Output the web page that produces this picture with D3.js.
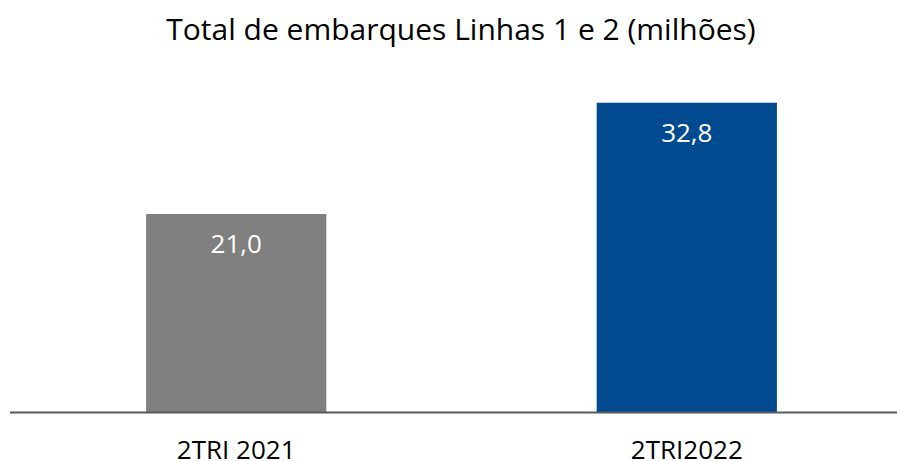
<!DOCTYPE html>
<html>
<head>
<meta charset="utf-8">
<script src="https://cdn.jsdelivr.net/npm/d3@7"></script>
<style>
  body { margin: 0; background: #fff; }
  text { font-family: 'Open Sans', 'Liberation Sans', sans-serif; }
</style>
</head>
<body>
<div id="chart"></div>
<script>
// Data
var categories = ['2TRI 2021', '2TRI2022'];
var values = [21.0, 32.8];
var barColors = ['#808080', '#004A8F'];
var title = 'Total de embarques Linhas 1 e 2 (milhões)';

var width = 897,
    height = 461;

var svg = d3.select('#chart')
    .append('svg')
    .attr('width', width)
    .attr('height', height);

var x = d3.scaleBand()
    .domain(categories)
    .range([10, 913])
    .paddingInner(0.6)
    .paddingOuter(0.302);

var y = d3.scaleLinear()
    .domain([0, 35])
    .range([412, 82]);

// Title
svg.append('text')
    .attr('x', 461)
    .attr('y', 40)
    .attr('text-anchor', 'middle')
    .attr('font-size', '30px')
    .attr('fill', '#000')
    .text(title);

// Bars
svg.selectAll('rect.bar')
    .data(values)
    .enter()
    .append('rect')
    .attr('class', 'bar')
    .attr('x', function (d, i) { return x(categories[i]); })
    .attr('y', function (d) { return y(d); })
    .attr('width', x.bandwidth())
    .attr('height', function (d) { return y(0) - y(d); })
    .attr('fill', function (d, i) { return barColors[i]; });

// Value labels inside bars
svg.selectAll('text.value')
    .data(values)
    .enter()
    .append('text')
    .attr('class', 'value')
    .attr('x', function (d, i) { return x(categories[i]) + x.bandwidth() / 2; })
    .attr('y', function (d) { return y(d) + 39; })
    .attr('text-anchor', 'middle')
    .attr('font-size', '26px')
    .attr('fill', '#fff')
    .text(function (d) { return d.toFixed(1).replace('.', ','); });

// Baseline
svg.append('line')
    .attr('x1', 10)
    .attr('x2', width)
    .attr('y1', y(0) + 0.5)
    .attr('y2', y(0) + 0.5)
    .attr('stroke', '#595959')
    .attr('stroke-width', 2);

// Category labels
svg.selectAll('text.cat')
    .data(categories)
    .enter()
    .append('text')
    .attr('class', 'cat')
    .attr('x', function (d) { return x(d) + x.bandwidth() / 2; })
    .attr('y', 459)
    .attr('text-anchor', 'middle')
    .attr('font-size', '26px')
    .attr('fill', '#000')
    .text(function (d) { return d; });
</script>
</body>
</html>
